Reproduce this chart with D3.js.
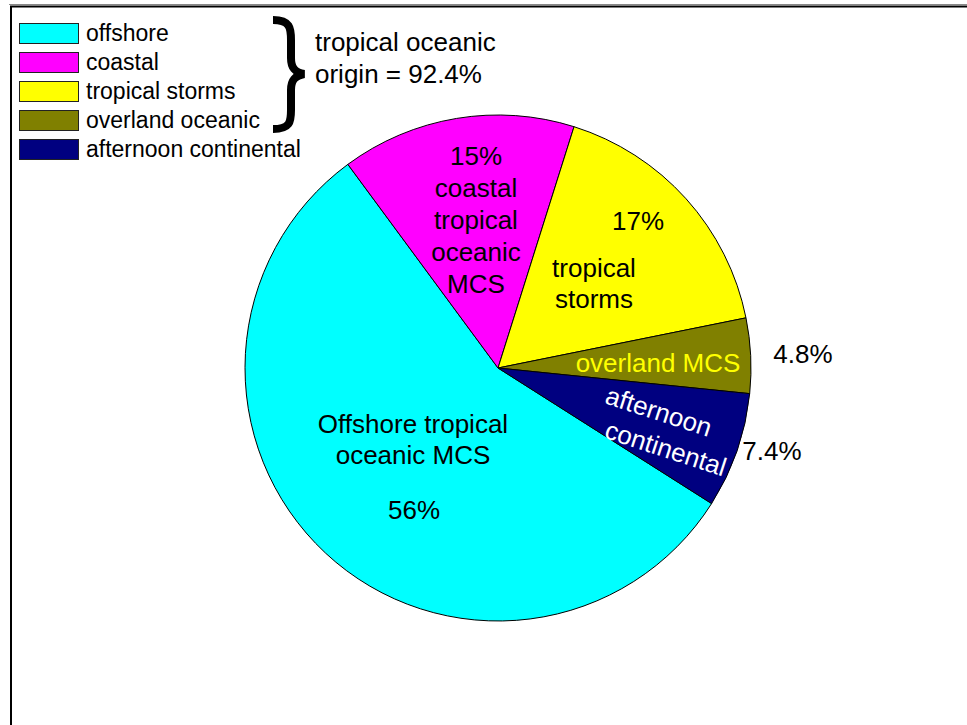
<!DOCTYPE html>
<html>
<head>
<meta charset="utf-8">
<script src="https://cdn.jsdelivr.net/npm/d3@7"></script>
<style>
  html, body { margin: 0; padding: 0; background: #fff; }
  svg { display: block; font-family: "Liberation Sans", Arial, sans-serif; }
</style>
</head>
<body>
<svg id="chart" width="967" height="725"></svg>
<script>
// Rain-type contributions (percent)
const categories = ["offshore", "coastal", "tropical storms", "overland oceanic", "afternoon continental"];
const values = [56, 15, 17, 4.8, 7.4];
const colors = ["#00FFFF", "#FF00FF", "#FFFF00", "#808000", "#000080"];
const groupNote = ["tropical oceanic", "origin = 92.4%"];

const svg = d3.select("#chart");

// Frame lines (top and left)
svg.append("line").attr("x1", 9).attr("x2", 967).attr("y1", 4.5).attr("y2", 4.5)
  .attr("stroke", "#888").attr("stroke-width", 1);
svg.append("line").attr("x1", 10).attr("x2", 967).attr("y1", 6.5).attr("y2", 6.5)
  .attr("stroke", "#000").attr("stroke-width", 2);
svg.append("line").attr("x1", 11).attr("x2", 11).attr("y1", 6).attr("y2", 725)
  .attr("stroke", "#000").attr("stroke-width", 2);

// Pie
const cx = 498, cy = 368, r = 253;
const deg = Math.PI / 180;
const start = 122.4 * deg;
const pie = d3.pie().sort(null).value(d => d)
  .startAngle(start).endAngle(start + 2 * Math.PI);
const arcs = pie(values);
const arc = d3.arc().innerRadius(0).outerRadius(r);

const g = svg.append("g").attr("transform", `translate(${cx},${cy})`);
g.selectAll("path.slice").data(arcs).enter().append("path")
  .attr("class", "slice")
  .attr("d", arc)
  .attr("fill", (d, i) => colors[i])
  .attr("stroke", "#000")
  .attr("stroke-width", 1);

const pct = v => `${v}%`;
const fs = 26;

function label(x, y, lines, fill, lh, rotate) {
  const t = svg.append("text")
    .attr("text-anchor", "middle")
    .attr("font-size", fs)
    .attr("fill", fill || "#000");
  if (rotate) t.attr("transform", `rotate(${rotate},${x},${y})`);
  lines.forEach((s, k) => {
    t.append("tspan").attr("x", x).attr("y", y + k * (lh || 32)).text(s);
  });
  return t;
}

// Offshore
label(413, 433, ["Offshore tropical", "oceanic MCS"], "#000", 31);
label(414, 519, [pct(values[0])]);
// Coastal
label(476, 165, [pct(values[1]), "coastal", "tropical", "oceanic", "MCS"], "#000", 32);
// Tropical storms
label(638, 230, [pct(values[2])]);
label(594, 277, ["tropical", "storms"], "#000", 31);
// Overland
label(658, 372, ["overland MCS"], "#FFFF00");
label(803, 363, [pct(values[3])]);
// Afternoon continental (tilted along the slice)
label(656, 420, ["afternoon"], "#fff", 0, 18);
label(663, 457, ["continental"], "#fff", 0, 18);
label(772, 460, [pct(values[4])]);

// Legend
const legend = svg.append("g");
const rows = legend.selectAll("g").data(categories).enter().append("g")
  .attr("transform", (d, i) => `translate(19,${23 + i * 29})`);
rows.append("rect")
  .attr("x", 0.5).attr("y", 0.5).attr("width", 59).attr("height", 20)
  .attr("fill", (d, i) => colors[i])
  .attr("stroke", "#222").attr("stroke-width", 1);
rows.append("text")
  .attr("x", 67).attr("y", 18)
  .attr("font-size", 23)
  .attr("fill", "#000")
  .text(d => d);

// Brace grouping the oceanic categories
svg.append("path")
  .attr("d", "M273,20 C290,20 291,28 291,40 L291,58 C291,68 295,72 304,74 C295,76 291,80 291,90 L291,110 C291,122 290,129 273,129")
  .attr("fill", "none")
  .attr("stroke", "#000")
  .attr("stroke-width", 8)
  .attr("stroke-linecap", "butt");

const note = svg.append("text").attr("font-size", 26).attr("fill", "#000");
groupNote.forEach((s, k) => note.append("tspan").attr("x", 315).attr("y", 51 + k * 32).text(s));
</script>
</body>
</html>
